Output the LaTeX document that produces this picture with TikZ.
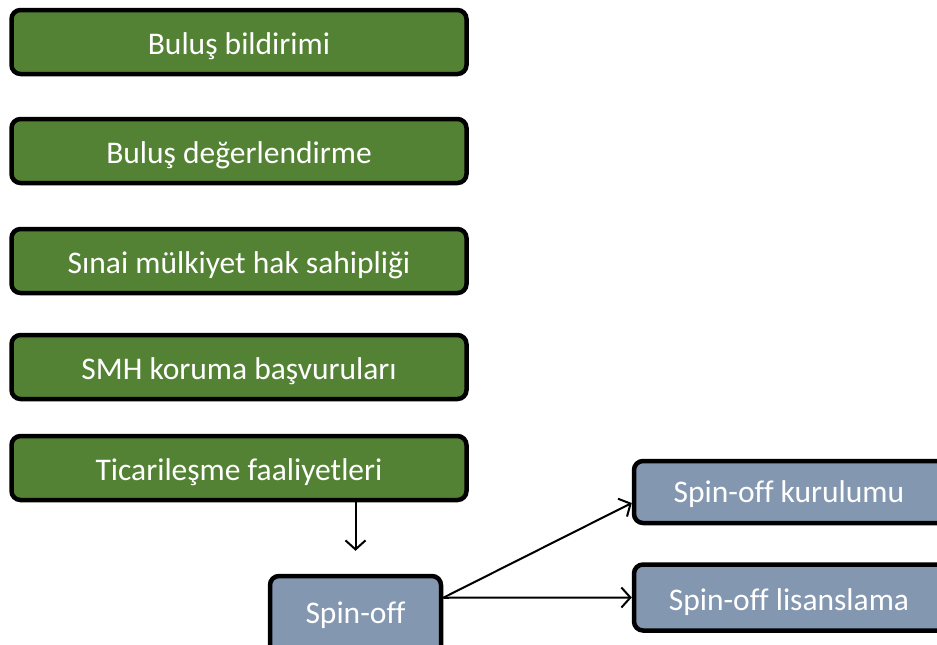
\documentclass[tikz,border=0pt]{standalone}
\usepackage{fontspec}
\setmainfont{Carlito}[Ligatures=NoCommon]
\usetikzlibrary{arrows.meta,calc}
\definecolor{gbox}{HTML}{548235}
\definecolor{bbox}{HTML}{8497B0}
\tikzset{
  lbl/.style={text=white, inner sep=0pt, text height=24pt, text depth=0pt,
    font=\fontsize{31.5}{36}\selectfont},
  gstep/.style={lbl, draw=black, line width=4.5pt, fill=gbox, rounded corners=9pt,
    minimum width=455pt, minimum height=64pt},
  bstep/.style={draw=black, line width=4.5pt, fill=bbox, rounded corners=9pt,
    minimum height=64pt, inner sep=0pt},
  conn/.style={line width=2pt, -{Straight Barb[length=9pt,width=20pt,line width=2pt]}}
}
\begin{document}
\begin{tikzpicture}[x=1pt,y=-1pt]
\useasboundingbox[fill=white] (0,0) rectangle (937,645);
\node[gstep] (g1) at (239,42) {Buluş bildirimi};
\node[gstep] (g2) at (239,151) {Buluş değerlendirme};
\node[gstep] (g3) at (239,261) {Sınai mülkiyet hak sahipliği};
\node[gstep] (g4) at (239,367) {SMH koruma başvuruları};
\node[gstep] (g5) at (239,468) {Ticarileşme faaliyetleri};
\node[bstep, minimum width=171pt, minimum height=90pt] (s) at (355.5,621) {};
\node[lbl] (st) at (355.5,611) {Spin-off};
\node[bstep, minimum width=320pt, minimum height=62pt] (k) at (794,492) {};
\node[lbl] (kt) at (789,490) {Spin-off kurulumu};
\node[bstep, minimum width=320pt, minimum height=66pt] (l) at (794,597.5) {};
\node[lbl] (lt) at (789,598) {Spin-off lisanslama};
\coordinate (d1) at (g5.south -| s.north);
\coordinate (d2) at ($(s.north)+(0,-23)$);
\coordinate (sp) at ($(s.north east)+(0,24)$);
\coordinate (ke) at ($(k.west)+(0,11)$);
\draw[conn] (d1) -- (d2);
\draw[conn] (sp) -- (ke);
\draw[conn] (sp) -- (l.west);
\end{tikzpicture}
\end{document}
